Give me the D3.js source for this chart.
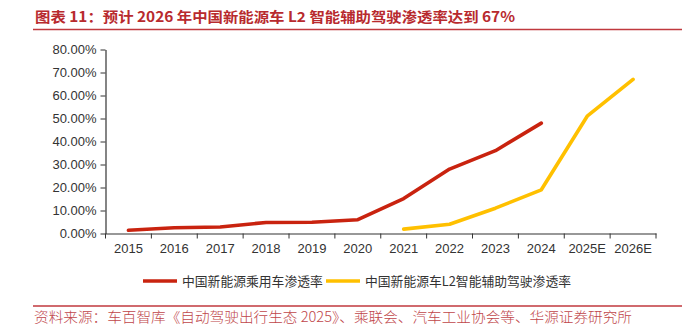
<!DOCTYPE html>
<html>
<head>
<meta charset="utf-8">
<script src="https://cdn.jsdelivr.net/npm/d3@7"></script>
<style>
  body { margin: 0; background: #fff; }
  svg { display: block; }
</style>
</head>
<body>
<svg width="697" height="331"></svg>
<script>
// chart data
const years = ['2015', '2016', '2017', '2018', '2019', '2020', '2021', '2022', '2023', '2024', '2025E', '2026E'];
const nevRate = [0.014, 0.025, 0.028, 0.048, 0.049, 0.060, 0.152, 0.280, 0.360, 0.480, null, null];
const l2Rate = [null, null, null, null, null, null, 0.019, 0.040, 0.110, 0.190, 0.510, 0.670];
const yTicks = [0, 0.1, 0.2, 0.3, 0.4, 0.5, 0.6, 0.7, 0.8];
const seriesNames = ['中国新能源乘用车渗透率', '中国新能源车L2智能辅助驾驶渗透率'];

const titleText = '图表 11：预计 2026 年中国新能源车 L2 智能辅助驾驶渗透率达到 67%';
const sourceText = '资料来源：车百智库《自动驾驶出行生态 2025》、乘联会、汽车工业协会等、华源证券研究所';

const colors = ['#c9230f', '#ffc000'];
const svg = d3.select('svg');
const latin = 'Liberation Sans, Arial, sans-serif';
const cjk = '"Noto Sans CJK SC", sans-serif';

// title + rule
svg.append('text')
  .attr('x', 35).attr('y', 22)
  .attr('font-family', cjk).attr('font-weight', 700).attr('font-size', 14)
  .attr('fill', '#b82a2e')
  .attr('textLength', 480).attr('lengthAdjust', 'spacingAndGlyphs')
  .text(titleText);
svg.append('line')
  .attr('x1', 33).attr('x2', 682).attr('y1', 29.5).attr('y2', 29.5)
  .attr('stroke', '#c0393e').attr('stroke-width', 1.6);

// scales
const x = d3.scaleBand().domain(years).range([105.5, 656]);
const y = d3.scaleLinear().domain([0, 0.8]).range([233.5, 49.5]);

// y axis
const yAxis = svg.append('g')
  .attr('transform', 'translate(105.5,0)')
  .call(d3.axisLeft(y).tickValues(yTicks).tickFormat(d3.format('.2%')).tickSize(5).tickSizeOuter(0).tickPadding(4));

// x axis: labels centred in bands, ticks on band edges
const xAxis = svg.append('g')
  .attr('transform', 'translate(0,233.5)')
  .call(d3.axisBottom(x).tickSize(0).tickSizeOuter(0).tickPadding(10));
xAxis.selectAll('.edge')
  .data(years.concat(['end']))
  .join('line')
  .attr('class', 'edge')
  .attr('x1', (d, i) => i < years.length ? x(d) : x.range()[1])
  .attr('x2', (d, i) => i < years.length ? x(d) : x.range()[1])
  .attr('y1', 0).attr('y2', 5)
  .attr('stroke', '#333');

[yAxis, xAxis].forEach(g => {
  g.select('.domain').attr('stroke', '#333').attr('stroke-width', 1.2);
  g.selectAll('.tick line').attr('stroke', '#333');
  g.selectAll('text').attr('font-family', latin).attr('font-size', 13).attr('fill', '#333');
});

// lines
const line = d3.line()
  .defined(d => d.v != null)
  .x(d => x(d.year) + x.bandwidth() / 2)
  .y(d => y(d.v));

[nevRate, l2Rate].forEach((vals, i) => {
  svg.append('path')
    .datum(years.map((yr, j) => ({ year: yr, v: vals[j] })))
    .attr('d', line)
    .attr('fill', 'none')
    .attr('stroke', colors[i])
    .attr('stroke-width', 3.6)
    .attr('stroke-linejoin', 'round')
    .attr('stroke-linecap', 'round');
});

// legend
const legendItems = [
  { x: 143, textX: 182 },
  { x: 326, textX: 365 }
];
legendItems.forEach((it, i) => {
  svg.append('line')
    .attr('x1', it.x).attr('x2', it.x + 34).attr('y1', 281).attr('y2', 281)
    .attr('stroke', colors[i]).attr('stroke-width', 3.6);
  svg.append('text')
    .attr('x', it.textX).attr('y', 285.5)
    .attr('font-family', cjk).attr('font-size', 12.8).attr('fill', '#333')
    .text(seriesNames[i]);
});

// source rule + text
svg.append('line')
  .attr('x1', 33).attr('x2', 682).attr('y1', 306).attr('y2', 306)
  .attr('stroke', '#c0393e').attr('stroke-width', 1.6);
svg.append('text')
  .attr('x', 34).attr('y', 322)
  .attr('font-family', cjk).attr('font-weight', 300).attr('font-size', 14)
  .attr('fill', '#c0464a')
  .attr('textLength', 598).attr('lengthAdjust', 'spacingAndGlyphs')
  .text(sourceText);
</script>
</body>
</html>
